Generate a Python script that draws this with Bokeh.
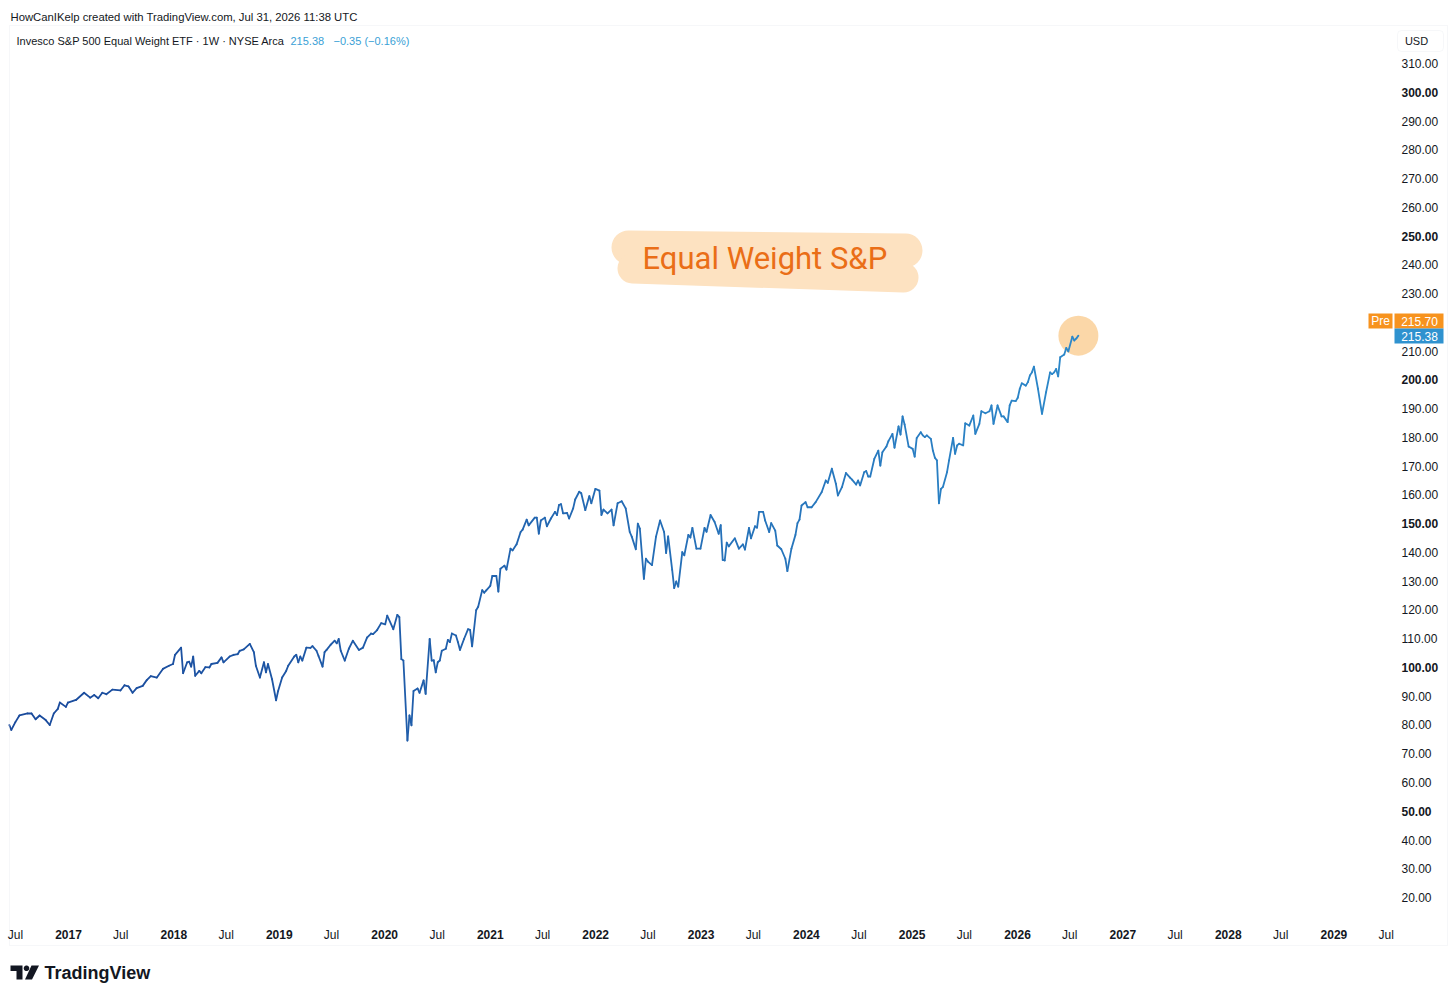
import numpy as np
import pandas as pd
from bokeh.plotting import figure
from bokeh.models import (ColumnDataSource, Range1d, Label, LabelSet,
                          BoxAnnotation, PolyAnnotation)
from bokeh.core.properties import value
from bokeh.embed import file_html
from bokeh.resources import INLINE

# ------------------------------------------------------------------ data
first_week = "2016-06-10"          # week index 0 (weekly closes, Fridays)
week = [0, 1, 3, 5, 9, 11, 13, 15, 18, 20, 22, 24, 25, 28, 29, 33, 37, 40, 42, 44,
        46, 48, 51, 55, 57, 59, 61, 63, 66, 68, 70, 73, 76, 79, 81, 82, 85, 86, 88, 89,
        90, 91, 92, 94, 95, 97, 99, 100, 103, 105, 106, 109, 111, 113, 114, 116, 119, 121, 122, 124,
        126, 127, 128, 130, 132, 133, 135, 137, 138, 141, 142, 143, 144, 145, 147, 149, 150, 152, 153, 155,
        156, 157, 159, 161, 162, 163, 164, 166, 168, 170, 173, 175, 177, 179, 180, 182, 184, 186, 187, 190,
        192, 193, 194, 195, 197, 198, 199, 200, 202, 203, 205, 206, 208, 209, 210, 211, 212, 213, 214, 216,
        217, 218, 219, 221, 222, 223, 225, 227, 228, 229, 231, 232, 234, 235, 236, 238, 239, 241, 242, 243,
        245, 246, 248, 249, 251, 253, 254, 256, 257, 260, 261, 262, 263, 265, 266, 268, 270, 271, 272, 273,
        274, 276, 277, 279, 280, 282, 283, 285, 287, 288, 290, 292, 293, 294, 296, 298, 299, 301, 303, 305,
        307, 308, 310, 311, 312, 314, 315, 316, 318, 320, 322, 324, 325, 326, 328, 329, 330, 331, 333, 334,
        336, 337, 338, 340, 342, 344, 345, 347, 349, 351, 352, 353, 354, 355, 356, 359, 361, 363, 364, 366,
        367, 369, 370, 371, 373, 374, 376, 377, 379, 380, 382, 384, 385, 387, 389, 390, 391, 392, 394, 395,
        397, 399, 402, 404, 405, 407, 409, 410, 412, 414, 416, 417, 419, 420, 421, 423, 424, 425, 426, 428,
        430, 431, 432, 434, 435, 437, 438, 440, 441, 442, 443, 445, 447, 448, 449, 451, 452, 453, 454, 456,
        457, 458, 459, 460, 461, 462, 464, 465, 467, 468, 469, 470, 472, 473, 475, 477, 478, 480, 481, 483,
        485, 486, 487, 489, 491, 492, 494, 495, 496, 498, 499, 500, 501, 503, 504, 505, 506, 507, 509, 511,
        513, 515, 516, 517, 518, 519, 520, 522, 523, 524, 526, 527, 528, 529]
close = [80.0, 78.3, 81.0, 83.3, 84.0, 84.0, 82.0, 83.3, 81.7, 80.0, 84.0, 85.6, 87.8, 86.3, 87.8, 88.7, 91.2, 89.5, 90.4, 89.3,
         91.2, 90.7, 92.3, 92.0, 93.8, 93.4, 91.2, 92.8, 93.6, 95.6, 97.0, 96.5, 99.5, 100.6, 101.2, 104.4, 106.9, 98.0, 101.8, 102.0,
         100.3, 103.8, 97.1, 98.8, 98.0, 100.1, 100.0, 101.2, 101.6, 103.5, 101.8, 103.8, 104.4, 104.6, 105.8, 106.3, 108.2, 105.3, 100.6, 96.5,
         101.8, 98.3, 101.2, 95.9, 88.6, 91.8, 96.5, 98.8, 100.6, 103.8, 104.4, 101.8, 103.8, 102.4, 106.9, 106.8, 107.4, 105.8, 104.0, 100.3,
         105.3, 106.1, 107.9, 109.3, 108.4, 109.9, 105.8, 102.4, 106.5, 109.3, 106.1, 106.9, 110.4, 111.8, 111.6, 113.0, 115.4, 115.0, 118.0, 113.3,
         118.3, 117.5, 102.9, 102.4, 74.6, 83.3, 79.9, 91.8, 92.7, 91.2, 95.5, 90.8, 109.9, 102.4, 102.5, 98.3, 101.8, 102.4, 105.8, 106.5,
         109.6, 108.8, 111.8, 111.1, 108.8, 106.1, 109.9, 113.3, 113.1, 107.3, 119.9, 121.1, 126.9, 126.0, 126.8, 128.4, 131.8, 131.8, 126.4, 134.3,
         135.4, 134.0, 141.3, 140.7, 142.8, 147.1, 147.9, 151.4, 149.4, 152.1, 152.1, 146.5, 151.1, 152.1, 149.1, 151.8, 154.1, 153.0, 156.5, 156.8,
         153.6, 153.7, 151.8, 155.3, 158.4, 161.1, 160.6, 154.7, 159.6, 157.1, 162.1, 161.5, 153.0, 154.9, 153.6, 154.9, 149.4, 157.1, 157.8, 155.3,
         147.1, 145.5, 141.1, 150.0, 148.3, 130.8, 137.8, 136.8, 135.6, 145.5, 151.1, 147.1, 139.8, 145.6, 133.9, 127.6, 129.9, 128.1, 140.1, 139.0,
         146.1, 145.2, 148.5, 141.3, 141.3, 148.5, 147.2, 153.0, 150.6, 146.5, 149.5, 137.4, 137.2, 143.4, 142.1, 144.9, 141.3, 142.8, 141.0, 148.5,
         144.9, 149.1, 148.6, 154.1, 154.1, 151.1, 147.1, 150.2, 147.6, 142.4, 141.1, 137.8, 133.5, 141.3, 146.1, 150.2, 151.4, 156.3, 157.5, 155.7,
         155.7, 157.5, 161.0, 165.0, 164.2, 169.1, 163.9, 159.8, 162.7, 167.6, 166.0, 165.3, 163.6, 165.0, 163.3, 167.9, 168.3, 166.4, 166.4, 172.5,
         175.4, 170.2, 174.8, 176.8, 178.7, 181.2, 176.4, 183.8, 181.0, 187.3, 184.5, 176.8, 176.0, 173.3, 179.8, 181.8, 180.7, 180.1, 180.7, 179.5,
         175.4, 172.9, 172.0, 157.1, 162.1, 162.8, 167.9, 172.0, 179.8, 174.3, 177.2, 177.8, 177.2, 184.9, 184.1, 187.6, 181.2, 184.7, 189.1, 188.4,
         189.1, 191.1, 184.7, 191.1, 187.3, 187.3, 185.3, 191.1, 192.8, 192.6, 193.8, 196.9, 198.8, 198.0, 199.2, 201.5, 202.6, 204.6, 196.9, 188.2,
         195.7, 202.6, 202.0, 202.6, 203.8, 201.2, 207.9, 208.8, 211.1, 209.9, 215.0, 213.7, 214.4, 215.38]

last_close = 215.38
change_abs = "\u22120.35"
change_pct = "\u22120.16%"
pre_market = 215.70

price_ticks = [20, 30, 40, 50, 60, 70, 80, 90, 100, 110, 120, 130, 140, 150, 160, 170,
               180, 190, 200, 210, 230, 240, 250, 260, 270, 280, 290, 300, 310]
date_ticks = ["2016-07-01", "2017-01-01", "2017-07-01", "2018-01-01", "2018-07-01",
              "2019-01-01", "2019-07-01", "2020-01-01", "2020-07-01", "2021-01-01",
              "2021-07-01", "2022-01-01", "2022-07-01", "2023-01-01", "2023-07-01",
              "2024-01-01", "2024-07-01", "2025-01-01", "2025-07-01", "2026-01-01",
              "2026-07-01", "2027-01-01", "2027-07-01", "2028-01-01", "2028-07-01",
              "2029-01-01", "2029-07-01"]
date_tick_labels = ["Jul", "2017", "Jul", "2018", "Jul", "2019", "Jul", "2020", "Jul", "2021",
                    "Jul", "2022", "Jul", "2023", "Jul", "2024", "Jul", "2025", "Jul", "2026",
                    "Jul", "2027", "Jul", "2028", "Jul", "2029", "Jul"]

title_text = "Invesco S&P 500 Equal Weight ETF \u00b7 1W \u00b7 NYSE Arca"
header_text = "HowCanIKelp created with TradingView.com, Jul 31, 2026 11:38 UTC"
note_text = "Equal Weight S&P"

# ------------------------------------------------------------------ layout / style
W, H = 1448, 992
T2017 = pd.Timestamp("2017-01-01")
X_PX_2017, PX_YEAR = 68.0, 105.45
Y_PX_310, PX_UNIT = 63.0, 2.876
TXT = "#131722"
FONT = "Liberation Sans"


def px_to_time(px):
    return T2017 + pd.Timedelta(days=(px - X_PX_2017) / PX_YEAR * 365.25)


def px_to_price(py):
    return 310.0 - (py - Y_PX_310) / PX_UNIT


def sx(px):
    return px


def sy(py):
    return H - py


p = figure(width=W, height=H, x_axis_type="datetime", output_backend="svg",
           toolbar_location=None, x_axis_location=None, y_axis_location=None,
           x_range=Range1d(px_to_time(0).to_pydatetime(), px_to_time(W).to_pydatetime()),
           y_range=Range1d(px_to_price(H), px_to_price(0)),
           min_border=0)
p.outline_line_color = None
p.grid.visible = False
p.background_fill_color = "white"
p.border_fill_color = "white"

dates = pd.Timestamp(first_week) + pd.to_timedelta(np.array(week) * 7, unit="D")
close_arr = np.array(close)

# brush highlight behind annotation
p.line([px_to_time(628), px_to_time(905)], [px_to_price(247), px_to_price(250)],
       line_width=34, line_cap="round", line_color="#fde2c1")
p.line([px_to_time(632), px_to_time(903)], [px_to_price(268), px_to_price(277)],
       line_width=30, line_cap="round", line_color="#fde2c1")

# circle highlight at last bar
p.scatter(x=[dates[-1]], y=[close_arr[-1]], size=40, fill_color="#fbd39f",
          fill_alpha=0.9, line_color=None)

# price line with colour gradient
n = len(close_arr) - 1
c0 = np.array([26, 74, 156])
c1 = np.array([44, 136, 202])
tt = np.linspace(0, 1, n)
cols = ["#%02x%02x%02x" % tuple(int(round(v)) for v in (c0 + (c1 - c0) * t)) for t in tt]
seg = ColumnDataSource(dict(x0=dates[:-1], x1=dates[1:], y0=close_arr[:-1], y1=close_arr[1:], c=cols))
p.segment(x0="x0", y0="y0", x1="x1", y1="y1", line_color="c", line_width=1.8,
          line_cap="round", source=seg)

# panel border
p.add_layout(BoxAnnotation(left=sx(9), right=sx(1447), top=sy(25), bottom=sy(945),
                           left_units="screen", right_units="screen",
                           top_units="screen", bottom_units="screen",
                           fill_alpha=0, line_color="#e0e3eb", line_width=1))

# header / title
p.add_layout(Label(x=sx(10), y=sy(16), x_units="screen", y_units="screen", text=header_text,
                   text_font=FONT, text_font_size="11.3px", text_color=TXT, text_baseline="middle"))
p.add_layout(Label(x=sx(16), y=sy(40), x_units="screen", y_units="screen", text=title_text,
                   text_font=FONT, text_font_size="11px", text_color=TXT, text_baseline="middle"))
p.add_layout(Label(x=sx(290), y=sy(40), x_units="screen", y_units="screen",
                   text=f"{last_close:.2f}",
                   text_font=FONT, text_font_size="11px", text_color="#3a9fd6", text_baseline="middle"))
p.add_layout(Label(x=sx(333), y=sy(40), x_units="screen", y_units="screen",
                   text=f"{change_abs} ({change_pct})",
                   text_font=FONT, text_font_size="11px", text_color="#3a9fd6", text_baseline="middle"))

# USD box
p.add_layout(BoxAnnotation(left=sx(1397), right=sx(1443), top=sy(30), bottom=sy(51),
                           left_units="screen", right_units="screen",
                           top_units="screen", bottom_units="screen",
                           fill_color="white", fill_alpha=1, line_color="#e0e3eb",
                           line_width=1, border_radius=4))
p.add_layout(Label(x=sx(1416), y=sy(40.5), x_units="screen", y_units="screen", text="USD",
                   text_font=FONT, text_font_size="11px", text_color=TXT,
                   text_align="center", text_baseline="middle"))

# price scale labels
norm = [v for v in price_ticks if v % 50 != 0]
bold = [v for v in price_ticks if v % 50 == 0]
for vals, style in ((norm, "normal"), (bold, "bold")):
    src = ColumnDataSource(dict(x=[sx(1401)] * len(vals), y=vals, t=[f"{v:.2f}" for v in vals]))
    p.add_layout(LabelSet(x="x", y="y", text="t", source=src, x_units="screen", y_units="data",
                          text_font=value(FONT), text_font_size="12px", text_font_style=style,
                          text_color=TXT, text_baseline="middle", text_align="left"))

# time scale labels
dt = pd.to_datetime(date_ticks)
for is_year, style in ((False, "normal"), (True, "bold")):
    idx = [i for i, l in enumerate(date_tick_labels) if (l != "Jul") == is_year]
    src = ColumnDataSource(dict(x=dt[idx], y=[sy(934)] * len(idx), t=[date_tick_labels[i] for i in idx]))
    p.add_layout(LabelSet(x="x", y="y", text="t", source=src, x_units="data", y_units="screen",
                          text_font=value(FONT), text_font_size="12px", text_font_style=style,
                          text_color=TXT, text_baseline="middle", text_align="center"))

# price tags
ORANGE, BLUE = "#f7931e", "#2f92cf"
for l, r, t, b, c in ((1368, 1392, 313, 328, ORANGE), (1394, 1443, 313, 328, ORANGE),
                      (1394, 1443, 328, 343, BLUE)):
    p.add_layout(BoxAnnotation(left=sx(l), right=sx(r), top=sy(t), bottom=sy(b),
                               left_units="screen", right_units="screen",
                               top_units="screen", bottom_units="screen",
                               fill_color=c, fill_alpha=1, line_color=None))
for x, y, t in ((1380, 320.5, "Pre"), (1419, 320.5, f"{pre_market:.2f}"), (1419, 335.5, f"{last_close:.2f}")):
    p.add_layout(Label(x=sx(x), y=sy(y), x_units="screen", y_units="screen", text=t,
                       text_font=FONT, text_font_size="12px", text_color="white",
                       text_align="center", text_baseline="middle"))

# hand-written note
p.add_layout(Label(x=sx(642), y=sy(258), x_units="screen", y_units="screen", text=note_text,
                   text_font="Roboto", text_font_size="31px", text_color="#ea6e17",
                   text_baseline="middle"))

# TradingView logo
logo = dict(xs_units="screen", ys_units="screen", fill_color=TXT, fill_alpha=1, line_color=None)
p.add_layout(PolyAnnotation(xs=[sx(v) for v in (10, 22, 22, 16, 16, 10)],
                            ys=[sy(v) for v in (965, 965, 979, 979, 970.5, 970.5)], **logo))
ang = np.linspace(0, 2 * np.pi, 24, endpoint=False)
p.add_layout(PolyAnnotation(xs=list(sx(26 + 2.8 * np.cos(ang))), ys=list(sy(967.8 + 2.8 * np.sin(ang))), **logo))
p.add_layout(PolyAnnotation(xs=[sx(v) for v in (31, 38.5, 31.5, 24.5)],
                            ys=[sy(v) for v in (965, 965, 979, 979)], **logo))
p.add_layout(Label(x=sx(44), y=sy(972), x_units="screen", y_units="screen", text="TradingView",
                   text_font=FONT, text_font_size="18px", text_font_style="bold",
                   text_color=TXT, text_baseline="middle"))

open("out.html", "w").write(file_html(p, INLINE))
